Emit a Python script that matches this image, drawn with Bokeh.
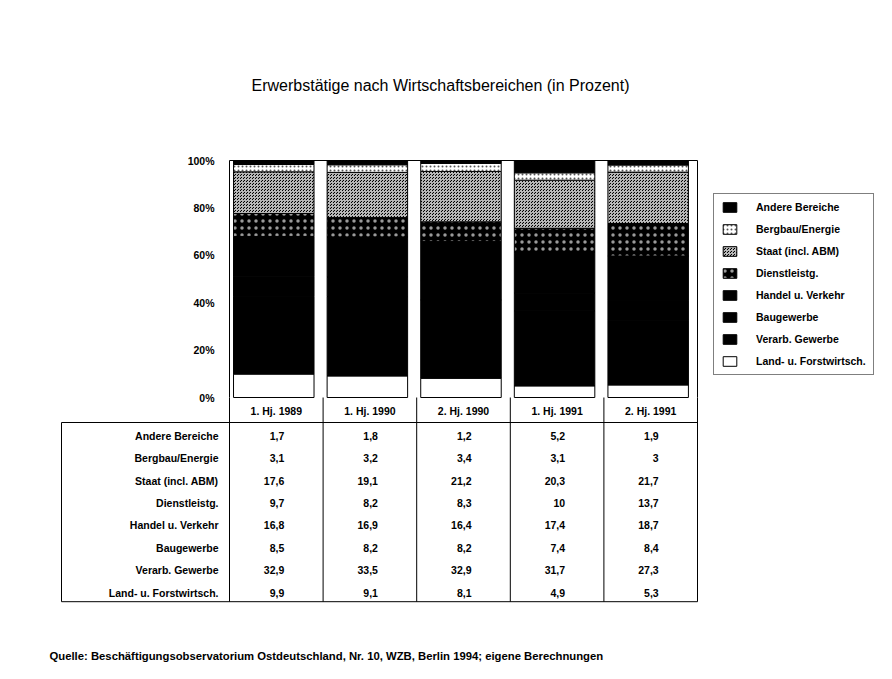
from bokeh.plotting import figure
from bokeh.models import Range1d, FixedTicker, PrintfTickFormatter, Legend, LegendItem, ColumnDataSource, Label
from bokeh.embed import file_html
from bokeh.resources import INLINE
from bokeh.core.properties import value
import numpy as np

# ---------------- data ----------------
periods = ["1. Hj. 1989", "1. Hj. 1990", "2. Hj. 1990", "1. Hj. 1991", "2. Hj. 1991"]
sectors = ["Andere Bereiche", "Bergbau/Energie", "Staat (incl. ABM)", "Dienstleistg.",
           "Handel u. Verkehr", "Baugewerbe", "Verarb. Gewerbe", "Land- u. Forstwirtsch."]
andere  = [1.7, 1.8, 1.2, 5.2, 1.9]
bergbau = [3.1, 3.2, 3.4, 3.1, 3.0]
staat   = [17.6, 19.1, 21.2, 20.3, 21.7]
dienst  = [9.7, 8.2, 8.3, 10.0, 13.7]
handel  = [16.8, 16.9, 16.4, 17.4, 18.7]
bau     = [8.5, 8.2, 8.2, 7.4, 8.4]
verarb  = [32.9, 33.5, 32.9, 31.7, 27.3]
land    = [9.9, 9.1, 8.1, 4.9, 5.3]
y_ticks = [0, 20, 40, 60, 80, 100]

title = "Erwerbstätige nach Wirtschaftsbereichen (in Prozent)"
source_note = "Quelle: Beschäftigungsobservatorium Ostdeutschland, Nr. 10,  WZB, Berlin 1994; eigene Berechnungen"

series = [andere, bergbau, staat, dienst, handel, bau, verarb, land]   # top -> bottom
keys = ["andere", "bergbau", "staat", "dienst", "handel", "bau", "verarb", "land"]

FONT = "Liberation Sans"
SMALL = "10.5px"

# ---------------- layout constants (page pixels) ----------------
ORIGIN = 0               # page offset of the figure (as rendered)
W, H = 884, 671
BORDER_L = 46            # room for the y-axis panel
FRAME_L = ORIGIN + BORDER_L
FRAME_R = ORIGIN + W
FRAME_T = ORIGIN
FRAME_B = ORIGIN + H
AX_X = 229               # page x of the value axis / first column edge
ZERO_Y = 397             # page y of 0 %
COL_PX = 93.6            # px per period column
PCT_PX = 2.37            # px per percent
HEAD_PX = 25             # header row height
ROW_PX = 22.4            # body row height

def px_x(px):   # page x -> data x
    return (px - AX_X) / COL_PX

def px_y(py):   # page y -> data y
    return (ZERO_Y - py) / PCT_PX

def row_y(offset_px):  # px below the 0 % line -> data y
    return -offset_px / PCT_PX

p = figure(width=W, height=H,
           x_range=Range1d(px_x(FRAME_L), px_x(FRAME_R)),
           y_range=Range1d(px_y(FRAME_B), px_y(FRAME_T)),
           x_axis_type=None, output_backend="svg", toolbar_location=None,
           min_border_left=BORDER_L, min_border_right=0, min_border_top=0, min_border_bottom=0)
p.outline_line_color = None
p.grid.visible = False
p.background_fill_color = "white"
p.border_fill_color = "white"

ncol = len(periods)
n_rows = len(sectors)

# ---------------- stacked bars ----------------
totals = np.sum(np.array(series), axis=0)
data = {"x": np.arange(ncol) + 0.5 - 0.027}
for k, vals in zip(keys, series):
    data[k] = np.array(vals) / totals * 100
src = ColumnDataSource(data)

stack_keys = keys[::-1]   # bottom -> top
fills   = {"land": "white", "verarb": "black", "bau": "black", "handel": "black",
           "dienst": "black", "staat": "black", "bergbau": "white", "andere": "black"}
hatches = {"land": None, "verarb": None, "bau": None, "handel": None,
           "dienst": "dot", "staat": "criss_cross", "bergbau": "dot", "andere": None}
hcolors = {"land": "black", "verarb": "black", "bau": "black", "handel": "black",
           "dienst": "#9a9a9a", "staat": "#b8b8b8", "bergbau": "#555555", "andere": "black"}
hscales = {"land": 4, "verarb": 4, "bau": 4, "handel": 4,
           "dienst": 7, "staat": 3, "bergbau": 4, "andere": 4}
hweights = {"land": 1, "verarb": 1, "bau": 1, "handel": 1,
            "dienst": 0.3, "staat": 1, "bergbau": 0.5, "andere": 1}

renderers = p.vbar_stack(stack_keys, x="x", width=0.86, source=src,
                         fill_color=[fills[k] for k in stack_keys],
                         line_color="black", line_width=1,
                         hatch_pattern=[hatches[k] for k in stack_keys],
                         hatch_color=[hcolors[k] for k in stack_keys],
                         hatch_scale=[hscales[k] for k in stack_keys],
                         hatch_weight=[hweights[k] for k in stack_keys])

# plot box (top and right edges)
p.segment(x0=[0, ncol], y0=[100, 0], x1=[ncol, ncol], y1=[100, 100],
          line_color="black", line_width=1)

# ---------------- value axis ----------------
yax = p.yaxis[0]
yax.fixed_location = 0
yax.bounds = (0, 100)
yax.ticker = FixedTicker(ticks=y_ticks)
yax.formatter = PrintfTickFormatter(format="%d%%")
yax.major_label_text_font = FONT
yax.major_label_text_font_size = SMALL
yax.major_label_text_font_style = "bold"
yax.major_label_text_color = "black"
yax.major_tick_out = 0
yax.major_tick_in = 0
yax.minor_tick_out = 0
yax.minor_tick_in = 0
yax.major_label_standoff = 15
yax.axis_line_color = "black"

# ---------------- legend ----------------
items = [LegendItem(label=name, renderers=[r]) for name, r in zip(sectors, renderers[::-1])]
legend = Legend(items=items, location=(713 - FRAME_L, FRAME_B - 375), orientation="vertical",
                glyph_width=17, glyph_height=12, label_height=12, spacing=10,
                padding=7, margin=0, label_standoff=18,
                border_line_color="black", border_line_width=1,
                label_text_font=FONT, label_text_font_size=SMALL,
                label_text_font_style="bold", label_text_color="black",
                background_fill_alpha=1)
p.add_layout(legend)

# ---------------- title ----------------
p.text(x=[px_x(440)], y=[px_y(85)], text=[title], text_align="center", text_baseline="middle",
       text_font=value(FONT), text_font_size="16px", text_color="black")

# ---------------- table ----------------
table_left = px_x(61)
head_top, head_bot = 0, row_y(HEAD_PX)
body_bot = row_y(HEAD_PX + n_rows * ROW_PX)
bounds = list(range(ncol + 1))
p.segment(x0=bounds, y0=[head_top] * len(bounds), x1=bounds, y1=[body_bot] * len(bounds),
          line_color="black", line_width=1)
p.segment(x0=[table_left, table_left, table_left], y0=[head_bot, body_bot, head_bot],
          x1=[ncol, ncol, table_left], y1=[head_bot, body_bot, body_bot],
          line_color="black", line_width=1)

p.text(x=[i + 0.5 for i in range(ncol)], y=[row_y(HEAD_PX / 2)] * ncol, text=periods,
       text_align="center", text_baseline="middle", text_font=value(FONT),
       text_font_size=SMALL, text_font_style="bold", text_color="black", y_offset=1)

row_centers = [row_y(HEAD_PX + ROW_PX * (r + 0.5)) for r in range(n_rows)]
p.text(x=[0] * n_rows, y=row_centers, text=sectors,
       text_align="right", text_baseline="middle", text_font=value(FONT),
       text_font_size=SMALL, text_font_style="bold", text_color="black",
       x_offset=-11, y_offset=2)

def fmt(v):
    return (str(int(v)) if float(v).is_integer() else f"{v:.1f}").replace(".", ",")

vx, vy, vt = [], [], []
for r, vals in enumerate(series):
    for i, v in enumerate(vals):
        vx.append(i + 0.5)
        vy.append(row_centers[r])
        vt.append(fmt(v))
p.text(x=vx, y=vy, text=vt, text_align="right", text_baseline="middle",
       text_font=value(FONT), text_font_size=SMALL, text_font_style="bold",
       text_color="black", x_offset=8, y_offset=2)

# ---------------- source note ----------------
p.add_layout(Label(x=px_x(49), y=px_y(655), text=source_note, text_align="left",
                   text_baseline="middle", text_font=FONT, text_font_size="11.3px",
                   text_font_style="bold", text_color="black"))

open("out.html", "w").write(file_html(p, INLINE))
